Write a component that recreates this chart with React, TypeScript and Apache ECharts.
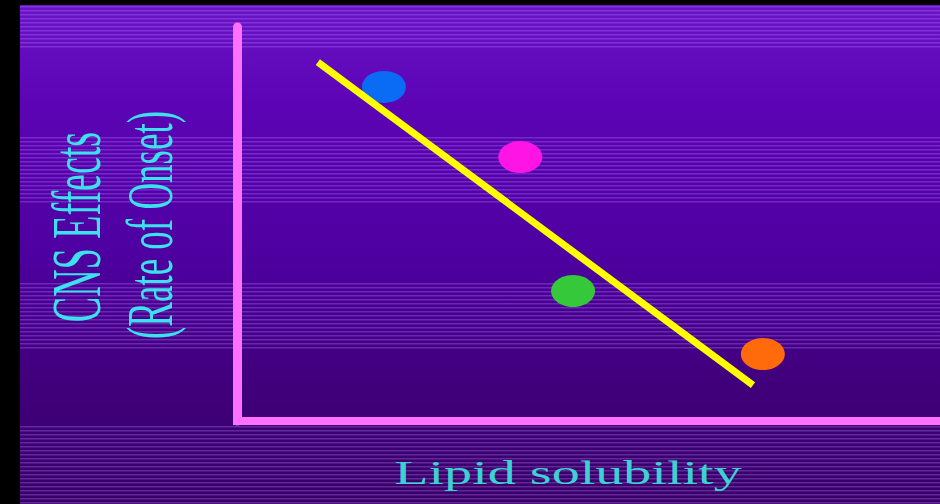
import React, { useEffect, useRef } from "react";
import * as echarts from "echarts";

// Data (value space 0..100 on both axes)
const pointNames = ["Blue", "Magenta", "Green", "Orange"];
const pointX = [20.9, 40.3, 47.8, 74.8];
const pointY = [84.8, 67.0, 33.0, 17.0];
const pointColors = ["#0a6cf5", "#ff14e6", "#35c83a", "#ff6a0a"];
const trendX = [11.5, 73.4];
const trendY = [91.1, 9.1];
const yTitleLines = ["CNS Effects", "(Rate of Onset)"];
const xTitle = "Lipid solubility";

const W = 940;
const H = 504;

function buildBackground(): any[] {
  const els: any[] = [];
  els.push({
    type: "rect",
    z: -20,
    silent: true,
    shape: { x: 0, y: 0, width: W, height: H },
    style: { fill: "#000000" },
  });
  els.push({
    type: "rect",
    z: -19,
    silent: true,
    shape: { x: 20, y: 5, width: W - 20, height: H - 5 },
    style: {
      fill: new echarts.graphic.LinearGradient(0, 0, 0, 1, [
        { offset: 0, color: "#6a14c8" },
        { offset: 0.2, color: "#5c04b4" },
        { offset: 0.5, color: "#4e00a0" },
        { offset: 0.75, color: "#41007c" },
        { offset: 1, color: "#370066" },
      ]),
    },
  });
  const bands = [
    [6, 50],
    [137, 202],
    [283, 348],
    [426, 504],
  ];
  bands.forEach(([a, b]) => {
    for (let y = a; y < b; y += 4) {
      els.push({
        type: "rect",
        z: -18,
        silent: true,
        shape: { x: 20, y, width: W - 20, height: 1.5 },
        style: { fill: "rgba(185,125,255,0.32)" },
      });
    }
  });
  return els;
}

export default function App() {
  const ref = useRef<HTMLDivElement>(null);
  useEffect(() => {
    if (!ref.current) return;
    const chart = echarts.init(ref.current, undefined, { renderer: "svg" });
    const scatterData = pointNames.map((n, i) => ({
      name: n,
      value: [pointX[i], pointY[i]],
      itemStyle: { color: pointColors[i], opacity: 1 },
    }));
    const trendData = trendX.map((x, i) => [x, trendY[i]]);
    chart.setOption({
      animation: false,
      backgroundColor: "#000000",
      grid: { left: 237, right: 0, top: 27, bottom: 83 },
      xAxis: {
        type: "value",
        min: 0,
        max: 100,
        axisLine: {
          show: true,
          lineStyle: { color: "#ff70ff", width: 8, cap: "square" },
        },
        axisTick: { show: false },
        axisLabel: { show: false },
        splitLine: { show: false },
      },
      yAxis: {
        type: "value",
        min: 0,
        max: 100,
        axisLine: {
          show: true,
          lineStyle: { color: "#ff70ff", width: 9 },
        },
        axisTick: { show: false },
        axisLabel: { show: false },
        splitLine: { show: false },
      },
      series: [
        {
          type: "scatter",
          data: scatterData,
          symbol: "circle",
          symbolSize: [44, 32],
          itemStyle: { opacity: 1 },
          z: 3,
        },
        {
          type: "line",
          data: trendData,
          symbol: "none",
          lineStyle: { color: "#ffff00", width: 7, cap: "butt" },
          z: 4,
        },
      ],
      graphic: [
        ...buildBackground(),
        {
          type: "text",
          z: 10,
          silent: true,
          x: 76,
          y: 227,
          rotation: Math.PI / 2,
          scaleX: 1,
          scaleY: 1.85,
          style: {
            text: yTitleLines[0],
            fill: "#3fe0ee",
            fontFamily: "Liberation Serif",
            fontSize: 38,
            align: "center",
            verticalAlign: "middle",
          },
        },
        {
          type: "text",
          z: 10,
          silent: true,
          x: 150,
          y: 225,
          rotation: Math.PI / 2,
          scaleX: 1,
          scaleY: 1.75,
          style: {
            text: yTitleLines[1],
            fill: "#3fe0ee",
            fontFamily: "Liberation Serif",
            fontSize: 37,
            align: "center",
            verticalAlign: "middle",
          },
        },
        {
          type: "text",
          z: 10,
          silent: true,
          x: 568,
          y: 473,
          scaleX: 1.7,
          scaleY: 1,
          style: {
            text: xTitle,
            fill: "#3cd2d2",
            fontFamily: "Liberation Serif",
            fontSize: 33,
            align: "center",
            verticalAlign: "middle",
          },
        },
      ],
    });
    return () => chart.dispose();
  }, []);
  return (
    <div
      ref={ref}
      style={{ position: "fixed", left: 0, top: 0, width: W, height: H }}
    />
  );
}
